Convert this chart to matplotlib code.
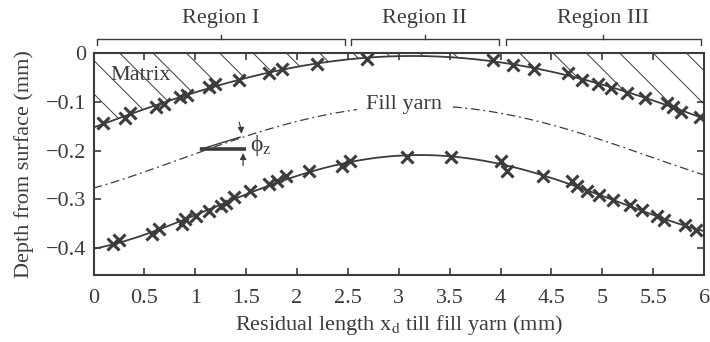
import numpy as np
import matplotlib.pyplot as plt
from matplotlib.ticker import FuncFormatter

plt.rcParams['font.family'] = ['Liberation Serif', 'DejaVu Serif']
plt.rcParams['mathtext.fontset'] = 'stix'
plt.rcParams['hatch.linewidth'] = 0.7

# measured points, upper boundary of the fill yarn (matrix interface)
top_x = [0.09, 0.31, 0.36, 0.61, 0.69, 0.85, 0.92, 1.13, 1.19, 1.43, 1.72, 1.85, 2.20, 2.69,
         3.93, 4.12, 4.33, 4.66, 4.80, 4.96, 5.09, 5.24, 5.42, 5.64, 5.69, 5.77, 5.96]
top_y = [-0.142, -0.133, -0.123, -0.110, -0.103, -0.090, -0.086, -0.070, -0.062, -0.054, -0.041,
         -0.033, -0.022, -0.011, -0.013, -0.023, -0.033, -0.041, -0.054, -0.062, -0.072, -0.081,
         -0.091, -0.101, -0.111, -0.120, -0.131]

# measured points, lower boundary
bot_x = [0.19, 0.25, 0.57, 0.64, 0.87, 0.90, 1.01, 1.13, 1.25, 1.30, 1.38, 1.54, 1.72, 1.80,
         1.89, 2.12, 2.44, 2.52, 3.08, 3.51, 4.00, 4.06, 4.42, 4.70, 4.75, 4.85, 4.97, 5.10,
         5.27, 5.39, 5.54, 5.61, 5.81, 5.92]
bot_y = [-0.392, -0.383, -0.371, -0.361, -0.351, -0.341, -0.333, -0.324, -0.314, -0.307, -0.295,
         -0.283, -0.269, -0.263, -0.252, -0.242, -0.232, -0.222, -0.212, -0.212, -0.222, -0.242,
         -0.251, -0.263, -0.273, -0.283, -0.291, -0.301, -0.312, -0.322, -0.333, -0.342, -0.353,
         -0.363]

regions = ['Region I', 'Region II', 'Region III']
region_start = [0.03, 2.53, 4.05]
region_end = [2.47, 3.98, 5.97]

col = '#3c3c3c'
fs = 16

fig = plt.figure(figsize=(7.1, 3.42), dpi=100)
ax = fig.add_axes([0.1317, 0.196, 0.86, 0.648])

xs = np.linspace(0, 6, 300)
top_fit = np.polyval(np.polyfit(top_x, top_y, 4), xs)
bot_fit = np.polyval(np.polyfit(bot_x, bot_y, 4), xs)
mid = (top_fit + bot_fit) / 2

# matrix region
ax.fill_between(xs, np.minimum(top_fit, 0), 0, facecolor='none', edgecolor=col,
                hatch='\\', linewidth=0)

ax.plot(xs, top_fit, color=col, lw=1.3)
ax.plot(xs, bot_fit, color=col, lw=1.3)
ax.plot(top_x, top_y, 'x', color=col, ms=8, mew=2.2)
ax.plot(bot_x, bot_y, 'x', color=col, ms=8, mew=2.2)

dash = (0, (7, 3, 1.5, 3))
ax.plot(xs[xs < 2.6], mid[xs < 2.6], color=col, lw=0.9, ls=dash)
ax.plot(xs[xs > 3.52], mid[xs > 3.52], color=col, lw=0.9, ls=dash)
ax.text(3.05, -0.104, 'Fill yarn', fontsize=fs, color=col, ha='center', va='center')
ax.text(0.17, -0.045, 'Matrix', fontsize=fs, color=col, ha='left', va='center')

# angle sketch
ax.plot([1.05, 1.50], [-0.197, -0.197], color=col, lw=2.6, solid_capstyle='butt')
ax.plot([1.05, 1.44], [-0.197, -0.172], color=col, lw=1.0)
ax.annotate('', xy=(1.455, -0.171), xytext=(1.42, -0.136),
            arrowprops=dict(arrowstyle='-|>', color=col, lw=0.9, mutation_scale=9,
                            connectionstyle='arc3,rad=-0.1'))
ax.annotate('', xy=(1.47, -0.199), xytext=(1.47, -0.236),
            arrowprops=dict(arrowstyle='-|>', color=col, lw=0.9, mutation_scale=9))
ax.text(1.54, -0.19, '\u03d5$_\\mathrm{z}$', fontsize=17, color=col, ha='left', va='center')

# region brackets
for name, a, b in zip(regions, region_start, region_end):
    c = (a + b) / 2
    ax.plot([a, a, b, b], [0.018, 0.029, 0.029, 0.018], color=col, lw=1.0, clip_on=False)
    ax.plot([c, c], [0.029, 0.038], color=col, lw=1.0, clip_on=False)
    ax.text(c, 0.071, name, fontsize=fs, color=col, ha='center', va='center')

ax.set_xlim(0, 6)
ax.set_ylim(-0.455, 0)
ax.set_xticks(np.arange(0, 6.01, 0.5))
ax.set_yticks([0, -0.1, -0.2, -0.3, -0.4])
ax.xaxis.set_major_formatter(FuncFormatter(lambda v, p: f'{v:g}'))
ax.yaxis.set_major_formatter(FuncFormatter(lambda v, p: f'{v:g}'.replace('-', '\u2212')))
ax.tick_params(direction='in', length=5, width=1.2, colors=col, labelsize=fs,
               top=True, right=True)
ax.tick_params(axis='x', pad=10)
ax.tick_params(axis='y', pad=5)
for s in ax.spines.values():
    s.set_color(col)
    s.set_linewidth(1.5)

ax.set_xlabel(r'Residual length x$_\mathrm{d}$ till fill yarn (mm)', fontsize=fs, color=col,
              labelpad=4)
ax.set_ylabel('Depth from surface (mm)', fontsize=fs, color=col, labelpad=9)

fig.savefig('out.png', dpi=100)
